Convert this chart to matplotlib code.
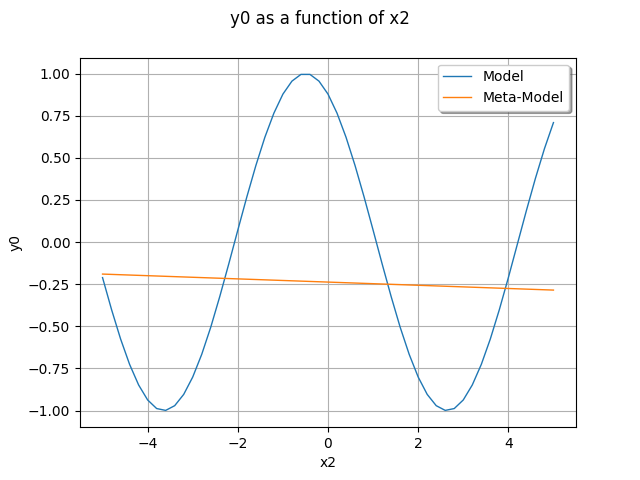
import numpy as np
from matplotlib import pyplot as plt

# values
x2 = [-5.0, -4.8, -4.6, -4.4, -4.2, -4.0, -3.8, -3.6, -3.4, -3.2,
      -3.0, -2.8, -2.6, -2.4, -2.2, -2.0, -1.8, -1.6, -1.4, -1.2,
      -1.0, -0.8, -0.6, -0.4, -0.2, 0.0, 0.2, 0.4, 0.6, 0.8,
      1.0, 1.2, 1.4, 1.6, 1.8, 2.0, 2.2, 2.4, 2.6, 2.8,
      3.0, 3.2, 3.4, 3.6, 3.8, 4.0, 4.2, 4.4, 4.6, 4.8, 5.0]
model = [-0.211, -0.401, -0.575, -0.726, -0.848, -0.937, -0.988, -0.999, -0.971, -0.904,
         -0.801, -0.666, -0.505, -0.323, -0.129, 0.071, 0.268, 0.454, 0.622, 0.765,
         0.878, 0.955, 0.995, 0.995, 0.955, 0.878, 0.765, 0.622, 0.454, 0.268,
         0.071, -0.129, -0.323, -0.505, -0.666, -0.801, -0.904, -0.971, -0.999, -0.988,
         -0.937, -0.848, -0.726, -0.575, -0.401, -0.211, -0.012, 0.187, 0.378, 0.554, 0.709]
meta_x = [-5.0, 5.0]
meta_y = [-0.19, -0.285]

fig, ax = plt.subplots(figsize=(6.4, 4.8), dpi=100)
fig.suptitle('y0 as a function of x2')
ax.plot(x2, model, color='C0', linewidth=1, label='Model')
ax.plot(meta_x, meta_y, color='C1', linewidth=1, label='Meta-Model')
ax.set_xlabel('x2')
ax.set_ylabel('y0')
ax.grid(True)
ax.legend(loc='upper right', shadow=True)
fig.savefig('out.png')
